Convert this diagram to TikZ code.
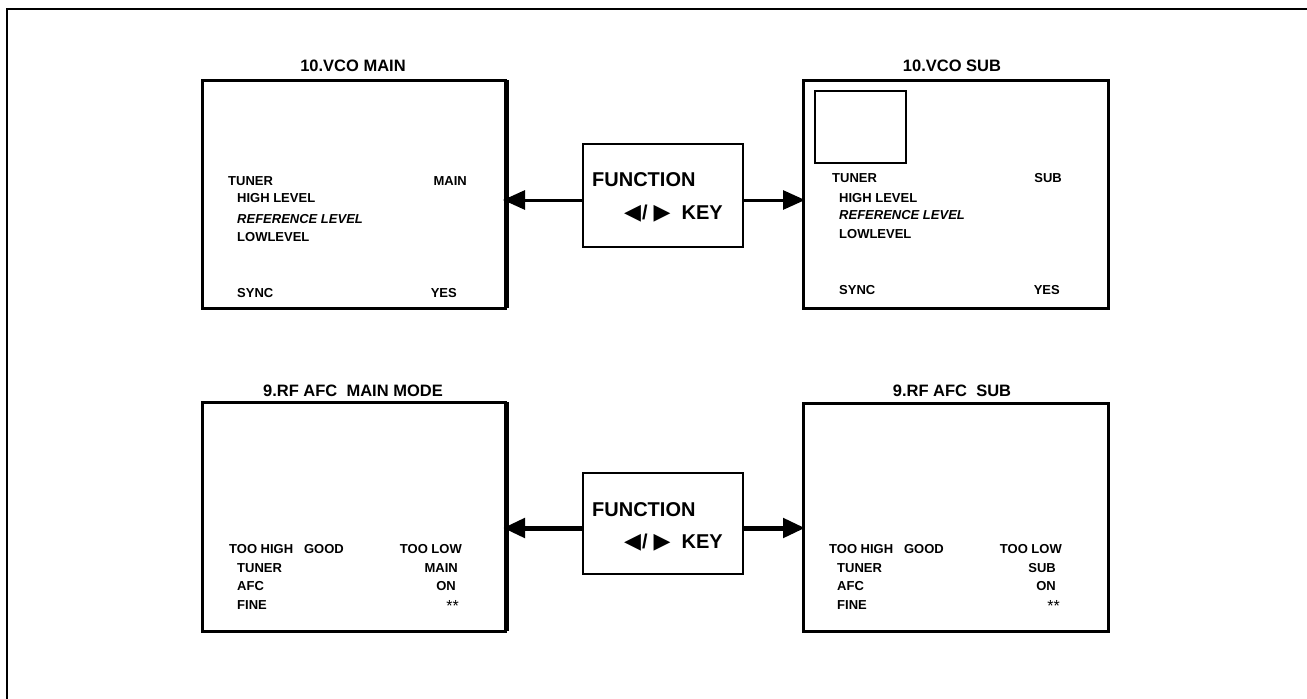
\documentclass[tikz,border=0pt]{standalone}
\usepackage{fontspec}
\setmainfont{Liberation Sans}
\newfontfamily\symfont{DejaVu Sans}
\usetikzlibrary{arrows.meta}
\tikzset{
  scr/.style={draw, line width=3pt, inner sep=0pt, outer sep=0pt},
  fbox/.style={draw, line width=2.5pt, inner sep=0pt, outer sep=0pt, minimum width=160pt},
  ttl/.style={anchor=base, inner sep=0pt, font=\bfseries\fontsize{16.5}{18}\selectfont},
  lt/.style={anchor=base west, inner sep=0pt, font=\bfseries\fontsize{13}{14}\selectfont},
  rt/.style={anchor=base east, inner sep=0pt, font=\bfseries\fontsize{13}{14}\selectfont},
  ft/.style={anchor=base west, inner sep=0pt, font=\bfseries\fontsize{20}{22}\selectfont},
  arr/.style={-{Triangle[length=22pt,width=19pt]}, shorten >=-2pt},
}
\newcommand{\keyline}{{\symfont\fontsize{22}{22}\selectfont ◀}\hspace{1pt}/\hspace{6pt}{\symfont\fontsize{22}{22}\selectfont ▶}\hspace{11pt}KEY}
\newcommand{\stars}{{\mdseries\fontsize{16}{16}\selectfont **}}
\begin{document}
\begin{tikzpicture}[x=1pt,y=-1pt]
\useasboundingbox (0,0) rectangle (1307,699);
% outer frame
\draw[line width=2.5pt] (7,699) -- (7,9) -- (1307,9);

% screens
\node[scr, minimum width=303pt, minimum height=228pt] (b1) at (353.5,194) {};
\node[scr, minimum width=305pt, minimum height=228pt] (b2) at (955.5,194) {};
\node[scr, minimum width=303pt, minimum height=229pt] (b3) at (353.5,516.5) {};
\node[scr, minimum width=305pt, minimum height=228pt] (b4) at (955.5,517) {};
\draw[line width=5pt] ([xshift=1pt]b1.north east) -- ([xshift=1pt]b1.south east);
\draw[line width=5pt] ([xshift=1pt]b3.north east) -- ([xshift=1pt]b3.south east);
\node[draw, line width=2.5pt, minimum width=91pt, minimum height=72pt, inner sep=0pt] (pip) at (860.5,127) {};

% titles
\node[ttl] (t1) at (353,71) {10.VCO MAIN};
\node[ttl] (t2) at (952,71) {10.VCO SUB};
\node[ttl] (t3) at (353,396) {9.RF AFC\ \ MAIN MODE};
\node[ttl] (t4) at (952,396) {9.RF AFC\ \ SUB};

% screen 1 text
\node[lt] (s1a) at (228,185) {TUNER};
\node[rt] (s1b) at (467,185) {MAIN};
\node[lt] (s1c) at (237,202) {HIGH LEVEL};
\node[lt] (s1d) at (237,223) {\itshape REFERENCE LEVEL};
\node[lt] (s1e) at (237,241) {LOWLEVEL};
\node[lt] (s1f) at (237,297) {SYNC};
\node[rt] (s1g) at (457,297) {YES};

% screen 2 text
\node[lt] (s2a) at (832,182) {TUNER};
\node[rt] (s2b) at (1062,182) {SUB};
\node[lt] (s2c) at (839,202) {HIGH LEVEL};
\node[lt] (s2d) at (839,219) {\itshape REFERENCE LEVEL};
\node[lt] (s2e) at (839,238) {LOWLEVEL};
\node[lt] (s2f) at (839,294) {SYNC};
\node[rt] (s2g) at (1060,294) {YES};

% screen 3 text
\node[lt] (s3a) at (229,553) {TOO HIGH\ \ \ GOOD};
\node[rt] (s3b) at (462,553) {TOO LOW};
\node[lt] (s3c) at (237,572) {TUNER};
\node[rt] (s3d) at (458,572) {MAIN};
\node[lt] (s3e) at (237,590) {AFC};
\node[rt] (s3f) at (456,590) {ON};
\node[lt] (s3g) at (237,609) {FINE};
\node[rt] (s3h) at (459,611) {\stars};

% screen 4 text
\node[lt] (s4a) at (829,553) {TOO HIGH\ \ \ GOOD};
\node[rt] (s4b) at (1062,553) {TOO LOW};
\node[lt] (s4c) at (837,572) {TUNER};
\node[rt] (s4d) at (1056,572) {SUB};
\node[lt] (s4e) at (837,590) {AFC};
\node[rt] (s4f) at (1056,590) {ON};
\node[lt] (s4g) at (837,609) {FINE};
\node[rt] (s4h) at (1060,611) {\stars};

% function boxes
\node[fbox, minimum height=103pt] (f1) at (663,195.5) {};
\node[ft] (f1a) at (592,186) {FUNCTION};
\node[ft] (f1b) at (624,219) {\keyline};
\node[fbox, minimum height=101pt] (f2) at (663,523.5) {};
\node[ft] (f2a) at (592,516) {FUNCTION};
\node[ft] (f2b) at (624,548) {\keyline};

% arrows
\coordinate (a1l) at ([yshift=-4.5pt]f1.west);
\coordinate (a1r) at ([yshift=-4.5pt]f1.east);
\coordinate (a2l) at ([yshift=-4.5pt]f2.west);
\coordinate (a2r) at ([yshift=-4.5pt]f2.east);
\draw[arr, line width=3pt] (a1l) -- (a1l -| b1.east);
\draw[arr, line width=3pt] (a1r) -- (a1r -| b2.west);
\draw[arr, line width=5pt] (a2l) -- (a2l -| b3.east);
\draw[arr, line width=5pt] (a2r) -- (a2r -| b4.west);
\end{tikzpicture}
\end{document}
